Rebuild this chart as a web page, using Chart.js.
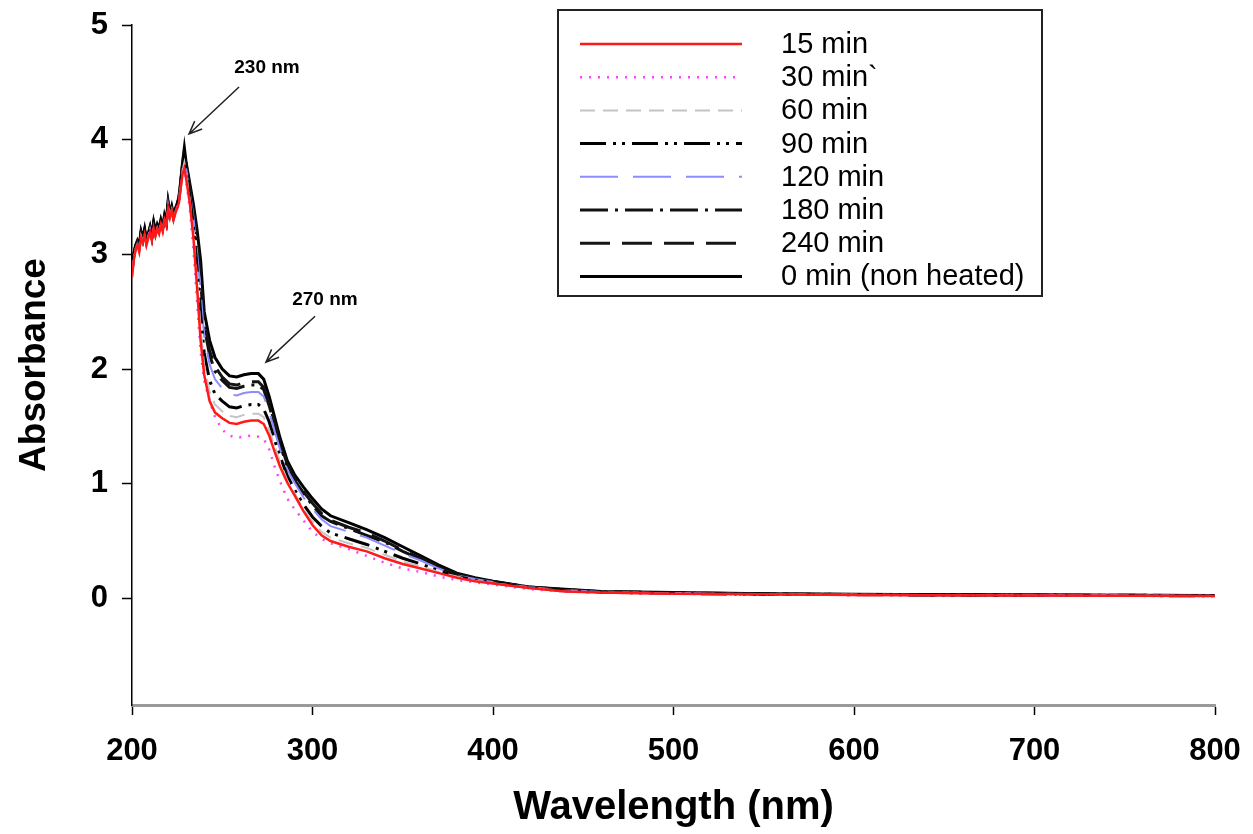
<!DOCTYPE html>
<html>
<head>
<meta charset="utf-8">
<script src="https://cdn.jsdelivr.net/npm/chart.js@4.4.1/dist/chart.umd.min.js"></script>
<style>
  html, body { margin: 0; padding: 0; background: #fff; }
</style>
</head>
<body>
<canvas id="uvChart" width="1253" height="834"></canvas>
<script>
// Wavelength grid (nm)
const wavelengths = [200,201,202,203,204,205,206,207,208,209,210,211,212,213,214,215,216,217,218,219,220,221,222,223,224,225,226,227,228,229,230,
  232,234,236,238,240,243,246,250,254,258,262,266,270,273,276,279,282,286,290,295,300,305,310,320,330,340,350,360,370,380,390,400,420,440,460,480,500,550,600,650,700,750,800];

// Absorbance per heating time
const abs15 = [2.80,2.95,3.04,3.08,3.02,3.14,3.10,3.17,3.08,3.14,3.19,3.12,3.23,3.16,3.22,3.18,3.26,3.20,3.30,3.25,3.40,3.32,3.38,3.30,3.36,3.40,3.45,3.58,3.70,3.75,3.66,
  3.45,3.15,2.72,2.25,1.95,1.72,1.62,1.57,1.53,1.52,1.54,1.55,1.55,1.52,1.42,1.28,1.15,1.01,0.90,0.76,0.64,0.55,0.50,0.45,0.41,0.35,0.30,0.26,0.22,0.18,0.15,0.13,0.09,0.06,0.05,0.045,0.04,0.035,0.03,0.028,0.025,0.022,0.02];
const abs30 = [2.83,2.97,3.05,3.07,3.05,3.15,3.12,3.18,3.10,3.15,3.20,3.14,3.24,3.18,3.23,3.19,3.27,3.22,3.31,3.26,3.41,3.33,3.39,3.31,3.37,3.41,3.46,3.58,3.70,3.74,3.64,
  3.40,3.05,2.60,2.15,1.90,1.72,1.58,1.47,1.42,1.40,1.41,1.42,1.41,1.39,1.30,1.15,1.02,0.87,0.78,0.68,0.58,0.52,0.48,0.43,0.37,0.31,0.26,0.23,0.19,0.16,0.14,0.12,0.08,0.06,0.05,0.045,0.04,0.034,0.03,0.027,0.025,0.022,0.02];
const abs60 = [2.82,2.96,3.05,3.08,3.04,3.16,3.11,3.18,3.09,3.15,3.20,3.13,3.24,3.17,3.23,3.19,3.27,3.21,3.31,3.26,3.42,3.33,3.39,3.31,3.37,3.41,3.46,3.59,3.73,3.80,3.70,
  3.48,3.19,2.80,2.36,2.03,1.80,1.69,1.63,1.59,1.58,1.60,1.61,1.61,1.58,1.47,1.33,1.19,1.03,0.92,0.78,0.67,0.58,0.53,0.48,0.44,0.38,0.32,0.28,0.23,0.19,0.155,0.133,0.092,0.063,0.052,0.047,0.042,0.036,0.031,0.029,0.026,0.024,0.021];
const abs90 = [2.85,2.99,3.07,3.10,3.06,3.18,3.12,3.20,3.11,3.16,3.22,3.15,3.26,3.18,3.24,3.20,3.28,3.23,3.32,3.27,3.44,3.34,3.40,3.32,3.38,3.42,3.48,3.61,3.76,3.86,3.74,
  3.51,3.25,2.89,2.49,2.14,1.90,1.78,1.72,1.67,1.66,1.68,1.69,1.69,1.65,1.54,1.38,1.24,1.07,0.95,0.82,0.71,0.63,0.57,0.52,0.47,0.41,0.35,0.30,0.24,0.19,0.16,0.137,0.093,0.067,0.053,0.048,0.043,0.036,0.032,0.029,0.027,0.025,0.022];
const abs120 = [2.84,2.98,3.06,3.09,3.05,3.17,3.12,3.20,3.10,3.16,3.22,3.14,3.26,3.18,3.24,3.20,3.28,3.22,3.32,3.26,3.43,3.34,3.40,3.32,3.38,3.42,3.48,3.61,3.76,3.86,3.75,
  3.55,3.33,3.03,2.68,2.29,2.04,1.91,1.83,1.78,1.77,1.79,1.80,1.80,1.76,1.63,1.46,1.30,1.12,1.01,0.88,0.78,0.69,0.63,0.58,0.53,0.46,0.39,0.33,0.26,0.20,0.17,0.142,0.096,0.072,0.056,0.051,0.046,0.037,0.033,0.03,0.028,0.026,0.023];
const abs180 = [2.86,2.99,3.06,3.10,3.06,3.18,3.13,3.20,3.11,3.17,3.22,3.15,3.26,3.19,3.24,3.21,3.29,3.23,3.32,3.27,3.44,3.35,3.40,3.33,3.39,3.43,3.48,3.62,3.77,3.88,3.77,
  3.58,3.37,3.10,2.78,2.37,2.12,1.98,1.90,1.84,1.83,1.85,1.86,1.86,1.82,1.68,1.51,1.34,1.15,1.03,0.92,0.81,0.72,0.67,0.61,0.55,0.49,0.41,0.34,0.27,0.21,0.17,0.145,0.098,0.075,0.058,0.053,0.048,0.038,0.034,0.031,0.029,0.027,0.024];
const abs240 = [2.87,3.00,3.07,3.11,3.07,3.19,3.13,3.21,3.12,3.17,3.23,3.15,3.27,3.19,3.25,3.21,3.29,3.23,3.33,3.27,3.45,3.35,3.41,3.33,3.39,3.43,3.49,3.62,3.78,3.90,3.78,
  3.59,3.39,3.14,2.83,2.41,2.16,2.02,1.93,1.87,1.86,1.88,1.89,1.89,1.84,1.70,1.53,1.36,1.17,1.05,0.93,0.83,0.74,0.68,0.62,0.57,0.50,0.42,0.35,0.28,0.21,0.175,0.147,0.098,0.077,0.058,0.053,0.048,0.038,0.034,0.031,0.029,0.027,0.024];
const abs0 = [2.88,3.00,3.08,3.12,3.08,3.20,3.14,3.22,3.12,3.18,3.24,3.16,3.28,3.20,3.26,3.22,3.30,3.24,3.34,3.28,3.46,3.36,3.42,3.34,3.40,3.44,3.50,3.64,3.80,3.93,3.80,
  3.62,3.44,3.22,2.95,2.50,2.25,2.10,2.00,1.94,1.93,1.95,1.96,1.96,1.91,1.76,1.58,1.40,1.20,1.08,0.97,0.87,0.78,0.72,0.66,0.60,0.53,0.45,0.37,0.29,0.22,0.18,0.15,0.10,0.08,0.06,0.055,0.05,0.04,0.035,0.032,0.03,0.028,0.025];

const seriesLabels = ['15 min', '30 min`', '60 min', '90 min', '120 min', '180 min', '240 min', '0 min (non heated)'];
const seriesValues = [abs15, abs30, abs60, abs90, abs120, abs180, abs240, abs0];
const xTicks = [200, 300, 400, 500, 600, 700, 800];
const yTicks = [0, 1, 2, 3, 4, 5];

// peak callouts: label position, arrow start, arrow tip (nm, absorbance)
const peakNotes = [
  { text: '230 nm', at: [274.8, 4.63], from: [259.3, 4.46], to: [231.6, 4.05] },
  { text: '270 nm', at: [306.9, 2.60], from: [301.4, 2.46], to: [274.2, 2.06] }
];

const styles = [
  { color: '#ff1a1a', width: 2.5, dash: [] },
  { color: '#ff40ff', width: 2.5, dash: [2, 7] },
  { color: '#c4c4c4', width: 2, dash: [15, 8] },
  { color: '#000000', width: 3, dash: [26, 7, 3, 6, 3, 7] },
  { color: '#8c8cff', width: 2, dash: [38, 15] },
  { color: '#111111', width: 3, dash: [28, 7, 3, 7] },
  { color: '#151515', width: 3, dash: [30, 12] },
  { color: '#000000', width: 3, dash: [] }
];

const datasets = seriesLabels.map((label, i) => ({
  label: label,
  data: wavelengths.map((w, j) => ({ x: w, y: seriesValues[i][j] })),
  borderColor: styles[i].color,
  borderWidth: styles[i].width,
  borderDash: styles[i].dash,
  pointRadius: 0,
  tension: 0,
  fill: false
}));

function arrow(ctx, x1, y1, x2, y2) {
  const a = Math.atan2(y2 - y1, x2 - x1);
  const h = 14;
  ctx.beginPath();
  ctx.moveTo(x1, y1); ctx.lineTo(x2, y2);
  ctx.moveTo(x2 - h * Math.cos(a - 0.4), y2 - h * Math.sin(a - 0.4));
  ctx.lineTo(x2, y2);
  ctx.lineTo(x2 - h * Math.cos(a + 0.4), y2 - h * Math.sin(a + 0.4));
  ctx.stroke();
}

const decor = {
  id: 'decor',
  afterDraw(chart) {
    const ctx = chart.ctx;
    const xs = chart.scales.x, ys = chart.scales.y;
    ctx.save();
    // callouts
    ctx.strokeStyle = '#222';
    ctx.lineWidth = 1.5;
    ctx.fillStyle = '#000';
    ctx.font = 'bold 19px "Liberation Sans", Arial, sans-serif';
    ctx.textAlign = 'center';
    ctx.textBaseline = 'middle';
    peakNotes.forEach(n => {
      ctx.fillText(n.text, xs.getPixelForValue(n.at[0]), ys.getPixelForValue(n.at[1]));
      arrow(ctx, xs.getPixelForValue(n.from[0]), ys.getPixelForValue(n.from[1]),
        xs.getPixelForValue(n.to[0]), ys.getPixelForValue(n.to[1]));
    });
    // legend box
    ctx.fillStyle = '#fff';
    ctx.fillRect(558, 10, 484, 286);
    ctx.lineWidth = 2;
    ctx.strokeStyle = '#222';
    ctx.strokeRect(558, 10, 484, 286);
    ctx.textAlign = 'left';
    ctx.font = '29px "Liberation Sans", Arial, sans-serif';
    chart.data.datasets.forEach((ds, i) => {
      const y = 44 + i * 33.2;
      ctx.beginPath();
      ctx.setLineDash(ds.borderDash);
      ctx.lineWidth = ds.borderWidth;
      ctx.strokeStyle = ds.borderColor;
      ctx.moveTo(580, y); ctx.lineTo(742, y);
      ctx.stroke();
      ctx.setLineDash([]);
      ctx.fillStyle = '#000';
      ctx.fillText(ds.label, 781, y + 1);
    });
    ctx.restore();
  }
};

const tickFont = { family: '"Liberation Sans", Arial, sans-serif', size: 31, weight: 'bold' };

new Chart(document.getElementById('uvChart'), {
  type: 'line',
  data: { datasets: datasets },
  options: {
    responsive: false,
    animation: false,
    layout: { padding: { top: 25, right: 38, left: 0, bottom: 0 } },
    plugins: { legend: { display: false }, tooltip: { enabled: false } },
    scales: {
      x: {
        type: 'linear', min: 200, max: 800,
        afterBuildTicks: s => { s.ticks = xTicks.map(v => ({ value: v })); },
        afterFit: s => { s.height = 129; s.paddingLeft = 0; s.paddingRight = 0; },
        ticks: { font: tickFont, color: '#000', padding: 18, maxRotation: 0 },
        grid: { drawOnChartArea: false, drawTicks: true, tickLength: 10, tickColor: '#000', tickWidth: 1.5 },
        border: { display: true, color: '#9a9a9a', width: 3 },
        title: { display: true, text: 'Wavelength (nm)', color: '#000', padding: 2,
          font: { family: '"Liberation Sans", Arial, sans-serif', size: 40, weight: 'bold' } }
      },
      y: {
        type: 'linear', min: -0.93, max: 5,
        afterBuildTicks: s => { s.ticks = yTicks.map(v => ({ value: v })); },
        afterFit: s => { s.width = 132; s.paddingTop = 0; s.paddingBottom = 0; },
        ticks: { font: tickFont, color: '#000', padding: 14 },
        grid: { drawOnChartArea: false, drawTicks: true, tickLength: 10, tickColor: '#000', tickWidth: 1.5 },
        border: { display: true, color: '#000', width: 1.5 },
        title: { display: true, text: 'Absorbance', color: '#000', padding: 13,
          font: { family: '"Liberation Sans", Arial, sans-serif', size: 37, weight: 'bold' } }
      }
    }
  },
  plugins: [decor]
});
</script>
</body>
</html>
